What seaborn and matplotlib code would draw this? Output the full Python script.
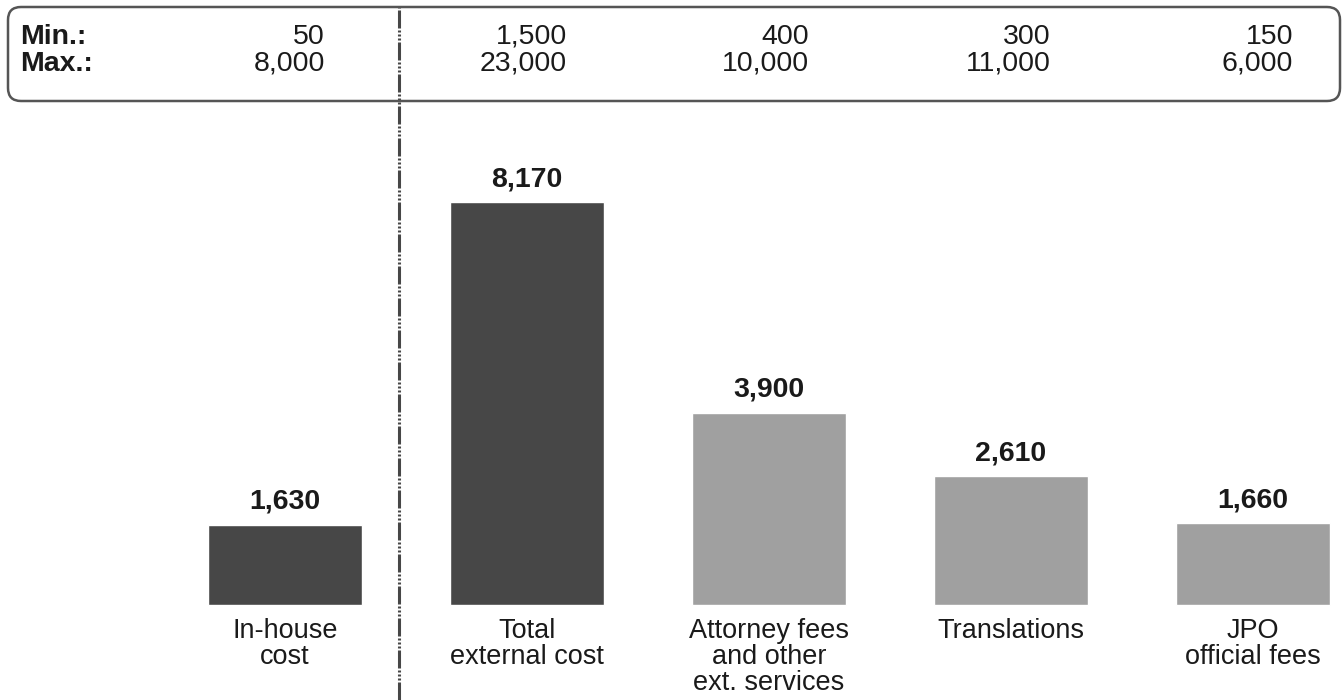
import matplotlib
matplotlib.use("Agg")
import matplotlib.pyplot as plt
import matplotlib.transforms as mtransforms
from matplotlib.patches import FancyBboxPatch
import pandas as pd
import seaborn as sns

# data
categories = ["In-house\ncost", "Total\nexternal cost", "Attorney fees\nand other\next. services",
              "Translations", "JPO\nofficial fees"]
values = [1630, 8170, 3900, 2610, 1660]
min_values = [50, 1500, 400, 300, 150]
max_values = [8000, 23000, 10000, 11000, 6000]
bar_colors = ["#474747", "#474747", "#a0a0a0", "#a0a0a0", "#a0a0a0"]

sns.set_style("white")
plt.rcParams['font.family'] = ['Liberation Sans', 'DejaVu Sans']

df = pd.DataFrame({"category": categories, "value": values})

fig = plt.figure(figsize=(13.44, 7.0), dpi=100)
ax = fig.add_axes([0, 0, 1, 1])

sns.barplot(data=df, x="category", y="value", hue="category", palette=bar_colors,
            legend=False, width=0.636, saturation=1, ax=ax)

# pixel layout: bar 0 centre at 285px, step 242px; baseline at 605px, 8170 -> 403px
k = 8170 / 403
ax.set_xlim(-285 / 242, (1344 - 285) / 242)
ax.set_ylim(-95 * k, 605 * k)
ax.axis("off")

txt = "#1a1a1a"

# value labels above bars
for i, v in enumerate(values):
    ax.annotate(f"{v:,}", (i, v), xytext=(0, 7), textcoords="offset points",
                ha="center", va="bottom", fontsize=20.5, fontweight="bold", color=txt)

# category labels under bars
for i, c in enumerate(categories):
    ax.annotate(c, (i, 0), xytext=(0, -9), textcoords="offset points",
                ha="center", va="top", fontsize=19.5, color=txt, linespacing=1.0)

# dash-dot-dot separator
sep_x = (399 - 285) / 242
lw = 2.2
px = 0.72 / lw
ax.axvline(sep_x, ymin=0, ymax=1 - 5 / 700, color="#474747", lw=lw,
           linestyle=(0, (18 * px, 2 * px, 2 * px, 2 * px, 2 * px, 2 * px, 2 * px, 2 * px)))

# min / max box
box = FancyBboxPatch((0.08, 7.0 - 1.01), 13.32, 0.94,
                     boxstyle="round,pad=0,rounding_size=0.13",
                     transform=fig.dpi_scale_trans, facecolor="none",
                     edgecolor="#555555", lw=1.8)
fig.add_artist(box)

row1, row2 = 1 - 36.5 / 700, 1 - 64 / 700
fig.text(20 / 1344, row1, "Min.:", fontsize=20.5, fontweight="bold", va="center", color=txt)
fig.text(20 / 1344, row2, "Max.:", fontsize=20.5, fontweight="bold", va="center", color=txt)

trans = mtransforms.blended_transform_factory(ax.transData, fig.transFigure)
for i, (lo, hi) in enumerate(zip(min_values, max_values)):
    ax.text(i + 40 / 242, row1, f"{lo:,}", transform=trans, ha="right", va="center",
            fontsize=20.5, color=txt)
    ax.text(i + 40 / 242, row2, f"{hi:,}", transform=trans, ha="right", va="center",
            fontsize=20.5, color=txt)

fig.savefig("out.png", dpi=100)
